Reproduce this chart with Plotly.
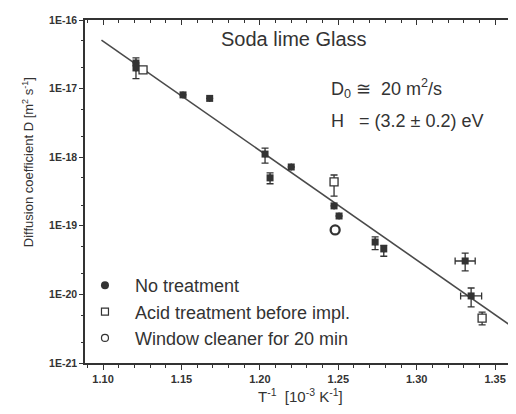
import plotly.graph_objects as go

# ---- data ----
no_x = [1.121, 1.121, 1.151, 1.168, 1.2033, 1.2065, 1.220, 1.2473, 1.2505, 1.2735, 1.279, 1.3309, 1.3347]
no_y = [2.36e-17, 2.0e-17, 8.1e-18, 7.2e-18, 1.11e-18, 5.0e-19, 7.2e-19, 1.95e-19, 1.39e-19, 5.8e-20, 4.6e-20, 3.07e-20, 9.5e-21]
no_ep = [0, 0.8e-17, 0, 0, 0.25e-18, 0.9e-19, 0, 0, 0, 1.1e-20, 0.6e-20, 0.93e-20, 0.29e-20]
no_em = [0, 0.6e-17, 0, 0, 0.29e-18, 0.9e-19, 0, 0, 0, 1.3e-20, 1.0e-20, 0.87e-20, 0.29e-20]
no_ex = [0, 0, 0, 0, 0, 0, 0, 0, 0, 0, 0, 0.0064, 0.0067]

acid_x = [1.1255, 1.2473, 1.3417]
acid_y = [1.87e-17, 4.36e-19, 4.5e-21]
acid_ep = [0, 1.14e-19, 1.0e-21]
acid_em = [0, 1.66e-19, 0.9e-21]

win_x = [1.248]
win_y = [8.7e-20]

fit_x = [1.099, 1.360]
fit_y = [5.1e-17, 3.5e-21]

x_ticks = [1.10, 1.15, 1.20, 1.25, 1.30, 1.35]
x_ticklabels = ["1.10", "1.15", "1.20", "1.25", "1.30", "1.35"]
y_ticks = [1e-21, 1e-20, 1e-19, 1e-18, 1e-17, 1e-16]
y_ticklabels = ["1E-21", "1E-20", "1E-19", "1E-18", "1E-17", "1E-16"]

legend_names = ["No treatment", "Acid treatment before impl.", "Window cleaner for 20 min"]

INK = "#333333"
FONT = "Liberation Sans, Arial, Helvetica, sans-serif"
X_RANGE = [1.0885, 1.3665]

fig = go.Figure()

# fit line
fig.add_trace(go.Scatter(x=fit_x, y=fit_y, mode="lines",
                         line=dict(color="#4a4a4a", width=1.6),
                         showlegend=False, hoverinfo="skip"))

err_style = dict(color=INK, thickness=1.3, width=3.5)

fig.add_trace(go.Scatter(
    x=no_x, y=no_y, mode="markers", showlegend=False,
    marker=dict(symbol="square", size=7, color=INK, line=dict(width=0)),
    error_y=dict(type="data", array=no_ep, arrayminus=no_em, symmetric=False, **err_style),
    error_x=dict(type="data", array=no_ex, **err_style),
))
fig.add_trace(go.Scatter(
    x=acid_x, y=acid_y, mode="markers", showlegend=False,
    marker=dict(symbol="square", size=8, color="white", line=dict(width=1.3, color=INK)),
    error_y=dict(type="data", array=acid_ep, arrayminus=acid_em, symmetric=False, **err_style),
))
fig.add_trace(go.Scatter(
    x=win_x, y=win_y, mode="markers", showlegend=False,
    marker=dict(symbol="circle", size=9, color="white", line=dict(width=2.3, color=INK)),
))

# empty trace so the top (inside-tick) axis is drawn
fig.add_trace(go.Scatter(x=[None], y=[None], xaxis="x2", showlegend=False, hoverinfo="skip"))

# legend entries
fig.add_trace(go.Scatter(x=[None], y=[None], mode="markers", name=legend_names[0],
                         marker=dict(symbol="circle", size=8, color=INK)))
fig.add_trace(go.Scatter(x=[None], y=[None], mode="markers", name=legend_names[1],
                         marker=dict(symbol="square", size=7, color="white", line=dict(width=1.2, color=INK))))
fig.add_trace(go.Scatter(x=[None], y=[None], mode="markers", name=legend_names[2],
                         marker=dict(symbol="circle", size=7, color="white", line=dict(width=1.2, color=INK))))

fig.update_layout(
    width=516, height=414,
    margin=dict(l=77, r=3, t=12, b=59),
    paper_bgcolor="white", plot_bgcolor="white",
    font=dict(family=FONT, color=INK),
    legend=dict(x=-0.023, y=0.28, xanchor="left", yanchor="top",
                font=dict(size=18, color=INK, family=FONT),
                bgcolor="rgba(0,0,0,0)", itemwidth=50, tracegroupgap=0),
    xaxis=dict(range=X_RANGE, tickvals=x_ticks, ticktext=x_ticklabels,
               showgrid=False, zeroline=False, showline=True, linecolor=INK, linewidth=1.5,
               ticks="outside", ticklen=5, tickwidth=1.3, tickcolor=INK,
               minor=dict(dtick=0.01, tick0=1.10, ticks="outside", ticklen=3, tickcolor=INK, tickwidth=1),
               tickfont=dict(size=11, family="Liberation Sans, Arial", weight="bold", color=INK)),
    xaxis2=dict(range=X_RANGE, overlaying="x", side="top", tickvals=x_ticks, showticklabels=False,
                showgrid=False, zeroline=False, showline=True, linecolor=INK, linewidth=1.5,
                ticks="inside", ticklen=5, tickwidth=1.3, tickcolor=INK,
                minor=dict(dtick=0.01, tick0=1.10, ticks="inside", ticklen=3, tickcolor=INK, tickwidth=1)),
    yaxis=dict(type="log", range=[-21, -16], tickvals=y_ticks, ticktext=y_ticklabels,
               showgrid=False, zeroline=False, showline=True, linecolor=INK, linewidth=1.5,
               ticks="outside", ticklen=4, tickwidth=1.3, tickcolor=INK,
               minor=dict(ticks="outside", ticklen=2, tickcolor=INK, tickwidth=1),
               tickfont=dict(size=10.5, family="Liberation Sans, Arial", weight="bold", color=INK)),
    shapes=[dict(type="line", xref="paper", yref="paper", x0=1, x1=1, y0=0, y1=1,
                 line=dict(color="#999999", width=1, dash="dot"))],
    annotations=[
        dict(text="Soda lime Glass", xref="paper", yref="paper", x=0.48, y=0.946,
             xanchor="center", yanchor="middle", showarrow=False, font=dict(size=20, color=INK)),
        dict(text="D<sub>0</sub> ≅  20 m<sup>2</sup>/s", xref="paper", yref="paper", x=0.56, y=0.799,
             xanchor="left", yanchor="middle", showarrow=False, font=dict(size=18, color=INK)),
        dict(text="H   = (3.2 ± 0.2) eV", xref="paper", yref="paper", x=0.56, y=0.705,
             xanchor="left", yanchor="middle", showarrow=False, font=dict(size=18, color=INK)),
        dict(text="Diffusion coefficient D [m<sup>2</sup> s<sup>-1</sup>]", xref="paper", yref="paper",
             x=-0.131, y=0.585, xanchor="center", yanchor="middle", textangle=-90, showarrow=False,
             font=dict(size=13, color=INK)),
        dict(text="T<sup>-1</sup>  [10<sup>-3</sup> K<sup>-1</sup>]", xref="paper", yref="paper",
             x=0.495, y=-0.096, xanchor="center", yanchor="middle", showarrow=False,
             font=dict(size=15, color=INK)),
    ],
)

fig.write_html("out.html")
